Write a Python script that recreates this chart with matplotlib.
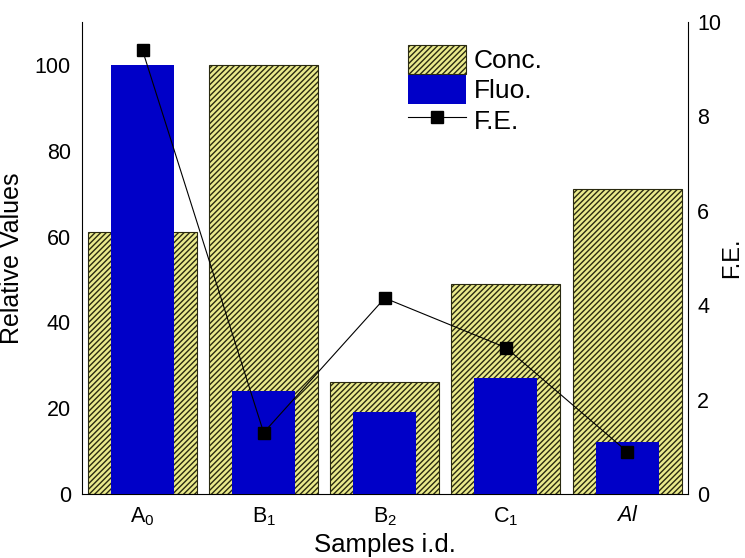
import matplotlib
matplotlib.use('Agg')
import matplotlib.pyplot as plt
import numpy as np

plt.rcParams['font.family'] = ['Liberation Sans', 'DejaVu Sans']
plt.rcParams['mathtext.fontset'] = 'custom'
plt.rcParams['mathtext.rm'] = 'Liberation Sans'
plt.rcParams['mathtext.it'] = 'Liberation Sans:italic'
plt.rcParams['mathtext.default'] = 'regular'
plt.rcParams['hatch.linewidth'] = 1.0
plt.rcParams['hatch.color'] = '#2a2a10'

samples = ['A$_0$', 'B$_1$', 'B$_2$', 'C$_1$', '$\\it{Al}$']
conc = [61, 100, 26, 49, 71]
fluo = [100, 24, 19, 27, 12]
fe = [9.4, 1.3, 4.15, 3.1, 0.9]

x = np.arange(len(samples))

fig = plt.figure(figsize=(7.45, 5.58), dpi=100)
ax = fig.add_axes([0.110, 0.1147, 0.813, 0.846])

ax.bar(x, conc, width=0.9, color='#eaea8c', edgecolor='#2a2a10',
       linewidth=0.8, hatch='//////', label='Conc.', zorder=2)
ax.bar(x, fluo, width=0.52, color='#0000c8', edgecolor='#0000c8',
       linewidth=0, label='Fluo.', zorder=3)

ax.set_xlim(-0.5, 4.5)
ax.set_ylim(0, 110)
ax.set_yticks([0, 20, 40, 60, 80, 100])
ax.set_xticks(x)
ax.set_xticklabels(samples)
ax.tick_params(axis='both', length=0, labelsize=15.5, pad=8)
ax.spines['top'].set_visible(False)
ax.spines['right'].set_visible(False)
ax.set_ylabel('Relative Values', fontsize=18, labelpad=8)
ax.set_xlabel('Samples i.d.', fontsize=18.5, labelpad=4)

ax2 = ax.twinx()
ax2.plot(x, fe, color='black', linewidth=0.8, marker='s', markersize=8,
         label='F.E.', zorder=4)
ax2.set_ylim(0, 10)
ax2.set_yticks([0, 2, 4, 6, 8, 10])
ax2.tick_params(axis='y', length=0, labelsize=15.5, pad=7)
ax2.spines['top'].set_visible(False)
ax2.spines['left'].set_visible(False)
ax2.spines['bottom'].set_visible(False)
ax2.set_ylabel('F.E.', fontsize=17, labelpad=0)

h1, l1 = ax.get_legend_handles_labels()
h2, l2 = ax2.get_legend_handles_labels()
ax2.legend(h1 + h2, l1 + l2, loc='upper left', bbox_to_anchor=(0.507, 0.99),
           frameon=False, fontsize=19, handlelength=2.2, handleheight=1.3,
           handletextpad=0.3, labelspacing=0.05, borderpad=0.2)

fig.savefig('out.png', dpi=100)
